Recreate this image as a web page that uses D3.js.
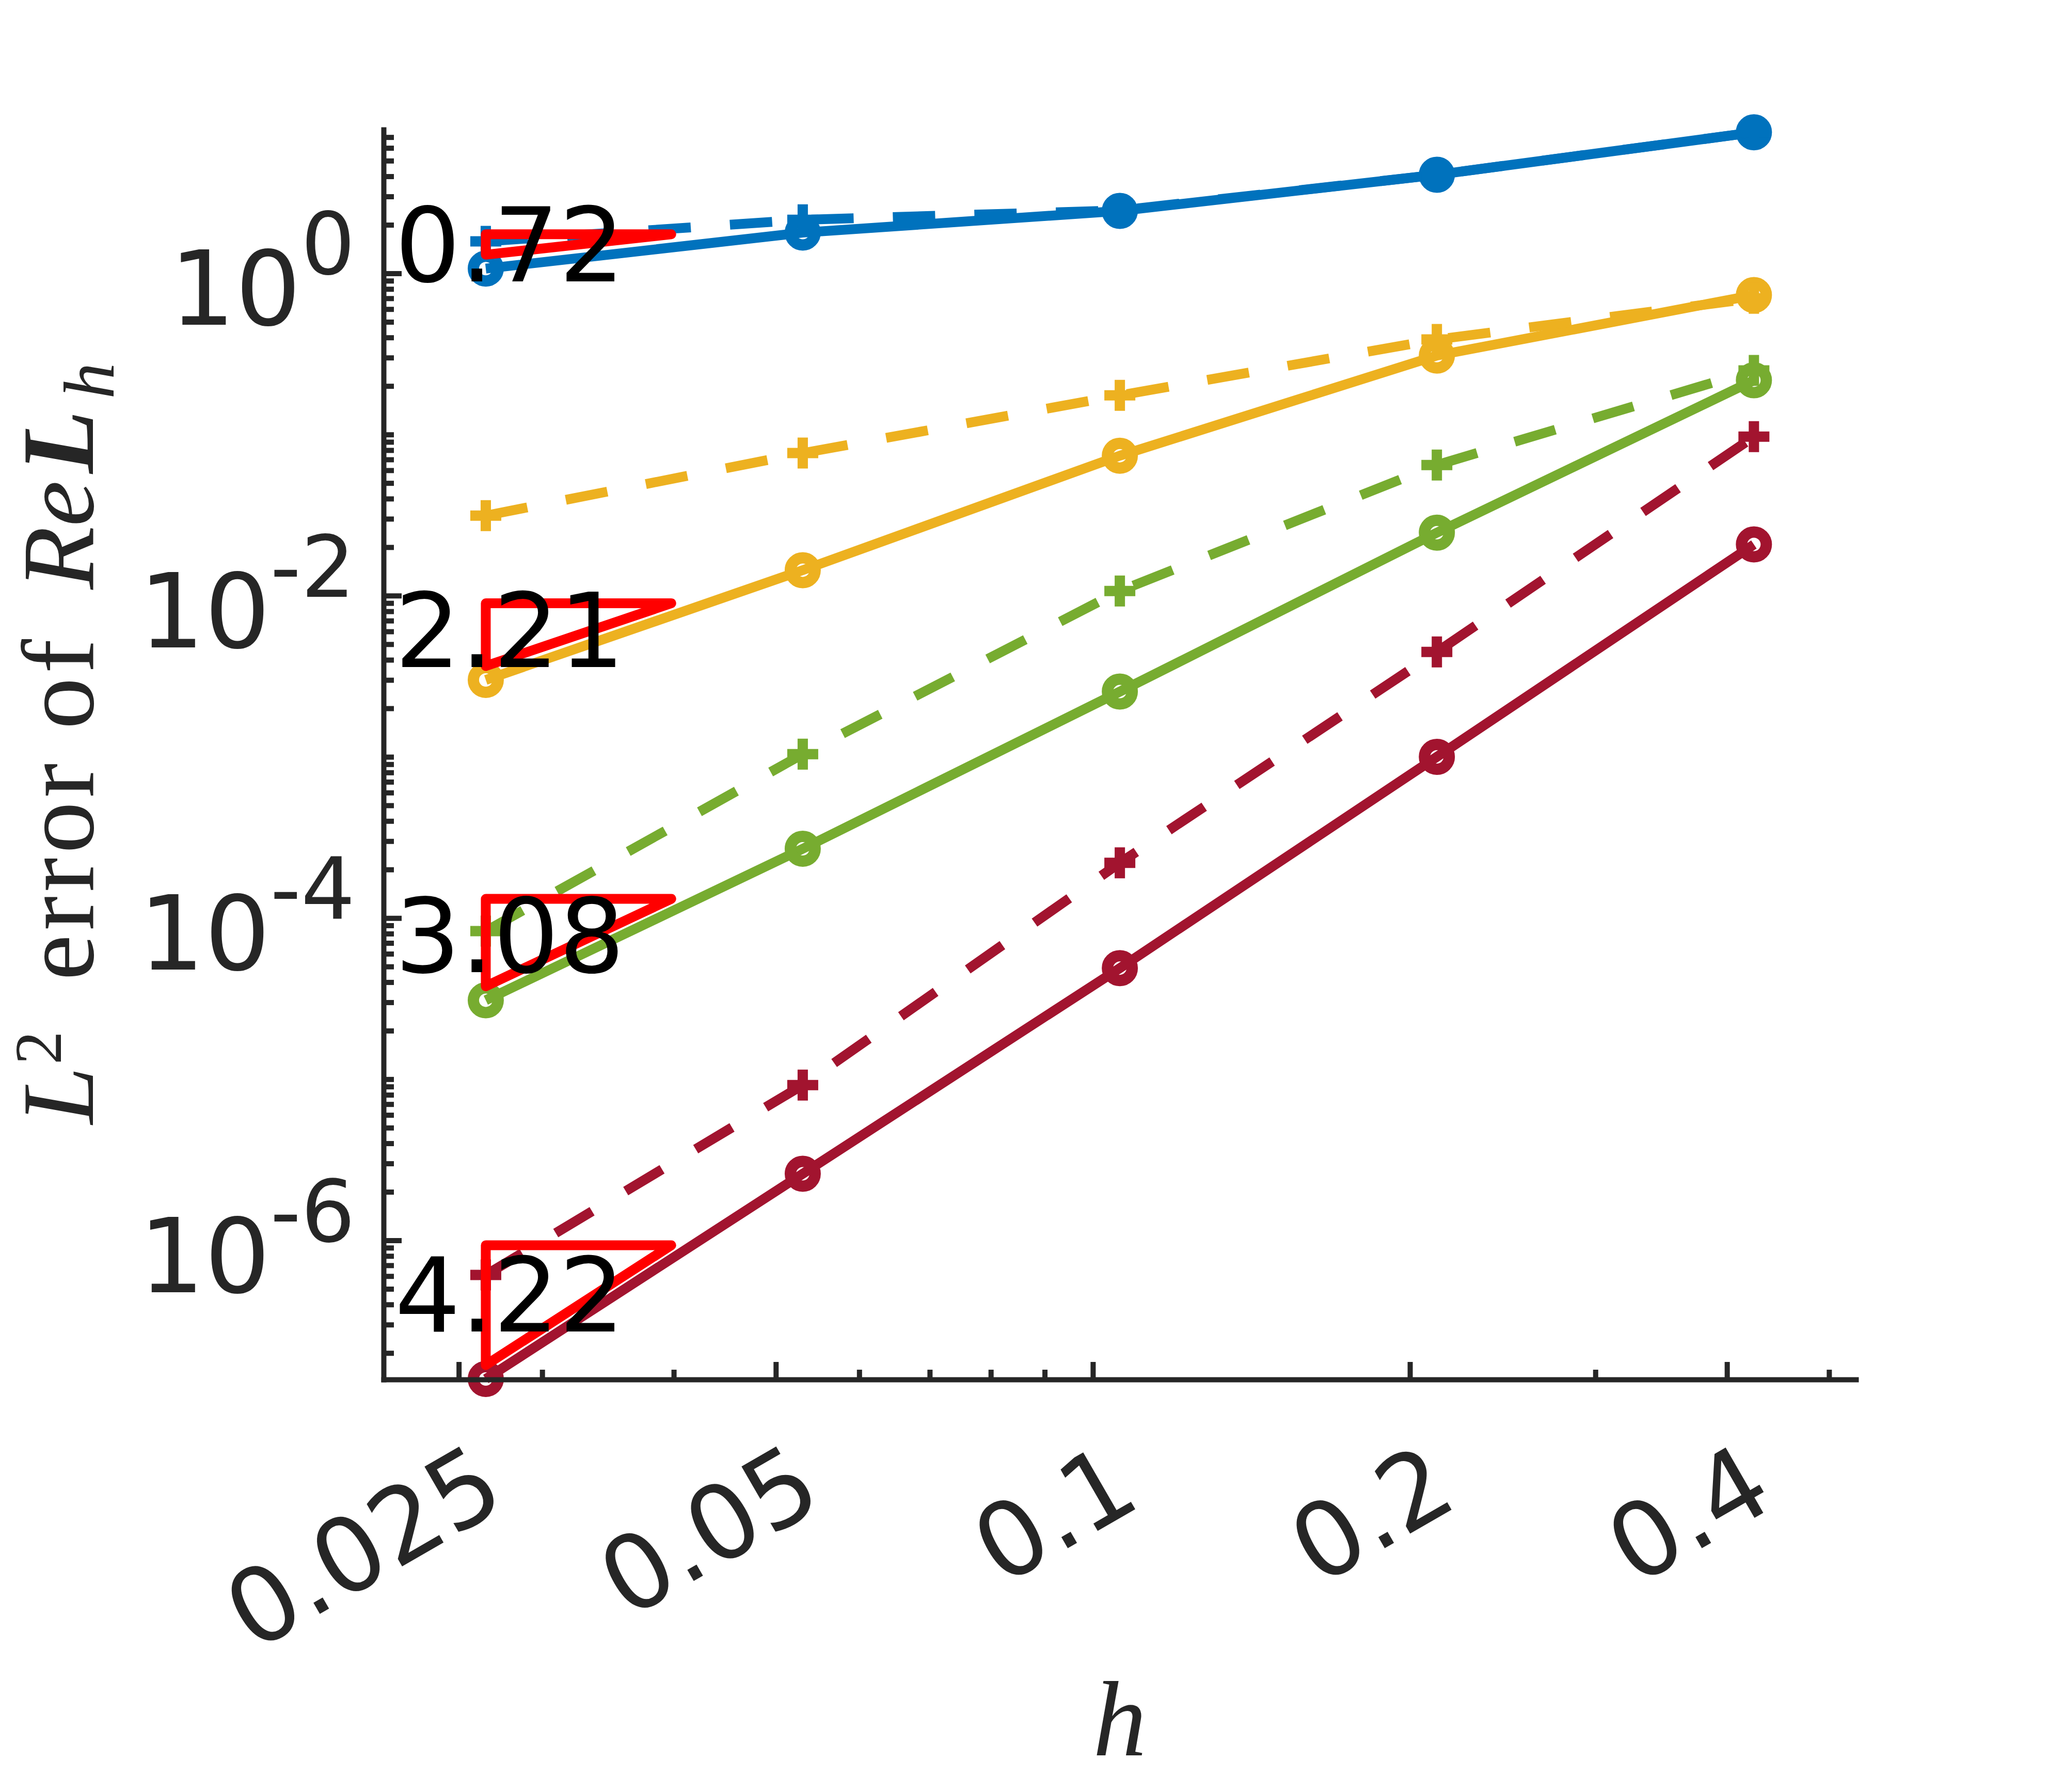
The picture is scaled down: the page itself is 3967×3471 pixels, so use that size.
<!DOCTYPE html>
<html><head><meta charset="utf-8">
<script src="https://cdn.jsdelivr.net/npm/d3@7/dist/d3.min.js"></script>
<style>html,body{margin:0;padding:0;background:#fff}</style>
</head><body>
<script>
// ---------- data ----------
const hVals = [0.02652, 0.05303, 0.10607, 0.21213, 0.42426];
const xTickVals = [0.025, 0.05, 0.1, 0.2, 0.4];
const xTickLabels = ["0.025", "0.05", "0.1", "0.2", "0.4"];
const xMinorVals = [0.03, 0.04, 0.06, 0.07, 0.08, 0.09, 0.3, 0.5];
const yTickVals = [1, 1e-2, 1e-4, 1e-6];
const yTickExp = ["0", "-2", "-4", "-6"];
const xLim = [0.02121, 0.5303];
const yLim = [1.37e-7, 7.8];

const blueSolid    = [1.07, 1.79, 2.44, 4.09, 7.5];
const blueDashed   = [1.58, 2.15, 2.46, 4.09, 7.5];
const orangeSolid  = [3.0e-3, 1.44e-2, 7.39e-2, 0.309, 0.733];
const orangeDashed = [0.0314, 0.0767, 0.175, 0.389, 0.70];
const greenSolid   = [3.09e-5, 2.69e-4, 2.54e-3, 0.0246, 0.217];
const greenDashed  = [8.3e-5, 1.04e-3, 0.0107, 0.0647, 0.25];
const redSolid     = [1.38e-7, 2.59e-6, 4.89e-5, 1.0e-3, 0.0208];
const redDashed    = [6.1e-7, 9.2e-6, 2.2e-4, 4.48e-3, 0.097];

const rates = [0.72, 2.21, 3.08, 4.22];
const rateLabels = ["0.72", "2.21", "3.08", "4.22"];
const rateBase = [blueSolid, orangeSolid, greenSolid, redSolid];
const triWidth = 1.5;      // horizontal extent factor of slope triangles
const triLift = 1.22;      // triangles sit slightly above the first point

// ---------- layout ----------
const W = 3967, H = 3471;
const pL = 743, pR = 3595, pT = 251, pB = 2672;
const axisColor = "#262626";

const svg = d3.select("body").append("svg")
  .attr("width", W).attr("height", H)
  .attr("viewBox", `0 0 ${W} ${H}`);
svg.append("rect").attr("width", W).attr("height", H).attr("fill", "#fff");

const x = d3.scaleLog().domain(xLim).range([pL, pR]);
const y = d3.scaleLog().domain(yLim).range([pB, pT]);

// ---------- series ----------
const series = [
  {vals: blueSolid,    color: "#0072BD", dash: false},
  {vals: blueDashed,   color: "#0072BD", dash: true},
  {vals: orangeSolid,  color: "#EDB120", dash: false},
  {vals: orangeDashed, color: "#EDB120", dash: true},
  {vals: greenSolid,   color: "#77AC30", dash: false},
  {vals: greenDashed,  color: "#77AC30", dash: true},
  {vals: redSolid,     color: "#A2142F", dash: false},
  {vals: redDashed,    color: "#A2142F", dash: true}
];

const line = d3.line().x(d => x(d[0])).y(d => y(d[1]));
const gS = svg.append("g");
series.forEach(s => {
  const pts = hVals.map((h, i) => [h, s.vals[i]]);
  const g = gS.append("g");
  g.append("path").attr("d", line(pts))
    .attr("fill", "none").attr("stroke", s.color).attr("stroke-width", 19)
    .attr("stroke-linejoin", "round")
    .attr("stroke-dasharray", s.dash ? "82,76" : null);
  if (s.dash) {
    g.selectAll("path.m").data(pts).enter().append("path").attr("class", "m")
      .attr("d", d => { const px = x(d[0]), py = y(d[1]);
        return `M${px-30},${py}H${px+30}M${px},${py-30}V${py+30}`; })
      .attr("stroke", s.color).attr("stroke-width", 20).attr("fill", "none");
  } else {
    g.selectAll("circle").data(pts).enter().append("circle")
      .attr("cx", d => x(d[0])).attr("cy", d => y(d[1])).attr("r", 24)
      .attr("fill", "none").attr("stroke", s.color).attr("stroke-width", 22);
  }
});

// ---------- slope triangles ----------
const gT = svg.append("g");
rates.forEach((r, i) => {
  const h1 = hVals[0];
  const e1 = rateBase[i][0] * triLift;
  const e2 = e1 * Math.pow(triWidth, r);
  const p = [[h1, e1], [h1 * triWidth, e2], [h1, e2]];
  gT.append("path")
    .attr("d", "M" + p.map(d => `${x(d[0])},${y(d[1])}`).join("L") + "Z")
    .attr("fill", "none").attr("stroke", "#FF0000").attr("stroke-width", 19)
    .attr("stroke-linejoin", "round");
  const mid = Math.sqrt(e1 * e2);
  gT.append("text")
    .attr("x", x(h1 / 1.22)).attr("y", y(mid) + 76 - 6 * r)
    .attr("font-family", "DejaVu Sans").attr("font-size", 200)
    .attr("fill", "#000").text(rateLabels[i]);
});

// ---------- axes ----------
const gx = svg.append("g").attr("transform", `translate(0,${pB})`);
gx.call(d3.axisBottom(x).tickValues(xTickVals).tickSize(-34).tickSizeOuter(0).tickFormat(""));
gx.append("g").call(d3.axisBottom(x).tickValues(xMinorVals).tickSize(-19).tickSizeOuter(0).tickFormat(""))
  .select(".domain").remove();
const gy = svg.append("g").attr("transform", `translate(${pL},0)`);
const yMinor = [];
for (let k = -7; k <= 0; k++) for (let m = 1; m <= 9; m++) {
  const v = m * Math.pow(10, k);
  if (v >= yLim[0] && v <= yLim[1] && !yTickVals.some(t => Math.abs(t - v) / v < 1e-9)) yMinor.push(v);
}
gy.call(d3.axisLeft(y).tickValues(yTickVals).tickSize(-35).tickSizeOuter(0).tickFormat(""));
gy.append("g").call(d3.axisLeft(y).tickValues(yMinor).tickSize(-20).tickSizeOuter(0).tickFormat(""))
  .select(".domain").remove();
svg.selectAll(".domain").attr("stroke", axisColor).attr("stroke-width", 10).attr("stroke-linecap", "square");
svg.selectAll(".tick line").attr("stroke", axisColor).attr("stroke-width", 10);

// x tick labels (rotated)
svg.append("g").selectAll("text").data(xTickVals).enter().append("text")
  .attr("transform", d => `translate(${x(d) + 98},${pB + 242}) rotate(-30)`)
  .attr("text-anchor", "end").attr("font-family", "DejaVu Sans").attr("font-size", 200)
  .attr("fill", axisColor).text((d, i) => xTickLabels[i]);

// y tick labels with superscripts
const yl = svg.append("g").selectAll("text").data(yTickVals).enter().append("text")
  .attr("x", pL - 55).attr("y", d => y(d) + 100)
  .attr("text-anchor", "end").attr("font-family", "DejaVu Sans").attr("font-size", 200)
  .attr("fill", axisColor);
yl.append("tspan").text("10");
yl.append("tspan").attr("dy", -98).attr("font-size", 165).text((d, i) => yTickExp[i]);

// axis labels
svg.append("text").attr("x", (pL + pR) / 2).attr("y", 3400)
  .attr("text-anchor", "middle").attr("font-family", "Liberation Serif")
  .attr("font-style", "italic").attr("font-size", 208).attr("fill", axisColor).text("h");

const ylab = svg.append("text")
  .attr("transform", `translate(180,1440) rotate(-90)`)
  .attr("text-anchor", "middle").attr("font-family", "Liberation Serif")
  .attr("font-size", 200).attr("fill", axisColor);
ylab.append("tspan").attr("font-style", "italic").text("L");
ylab.append("tspan").attr("font-size", 130).attr("dy", -62).attr("dx", 4).text("2");
ylab.append("tspan").attr("dy", 62).attr("dx", 40).attr("letter-spacing", 8).text(" error of ");
ylab.append("tspan").attr("dx", 30).attr("font-style", "italic").text("Re");
ylab.append("tspan").attr("dx", 14).attr("font-style", "italic").attr("font-weight", "bold").text("L");
ylab.append("tspan").attr("dx", 22).attr("dy", 40).attr("font-style", "italic").attr("font-size", 140).text("h");
</script>
</body></html>
